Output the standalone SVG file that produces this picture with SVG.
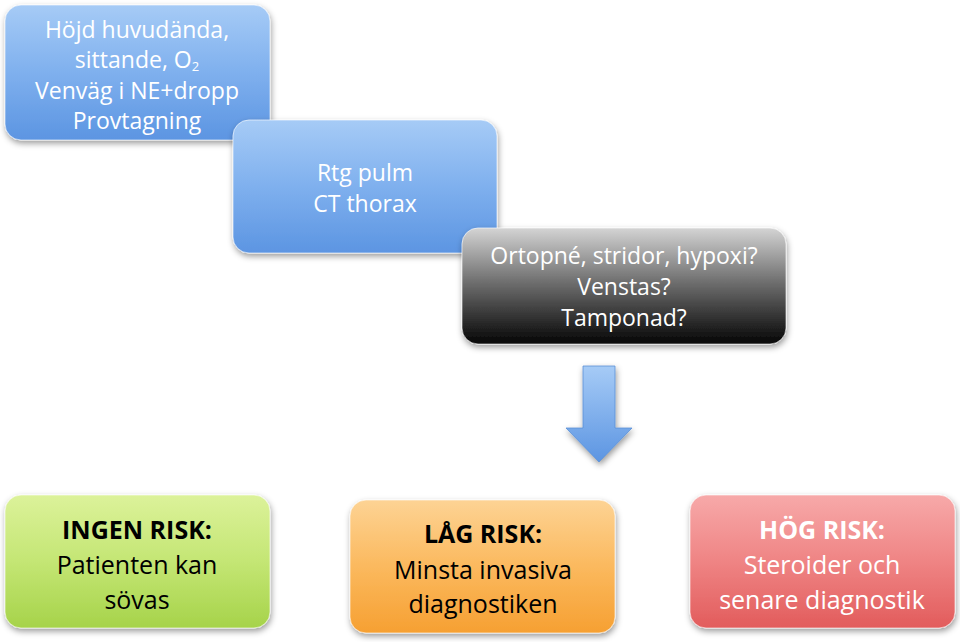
<svg xmlns="http://www.w3.org/2000/svg" width="960" height="642" viewBox="0 0 960 642">
<defs>
<linearGradient id="gBlue" x1="0" y1="0" x2="0" y2="1"><stop offset="0" stop-color="#a6cbf6"/><stop offset="0.5" stop-color="#7fb0ee"/><stop offset="1" stop-color="#5c95e2"/></linearGradient>
<linearGradient id="gGray" x1="0" y1="0" x2="0" y2="1"><stop offset="0" stop-color="#d4d4d4"/><stop offset="0.45" stop-color="#727272"/><stop offset="1" stop-color="#050505"/></linearGradient>
<linearGradient id="gGreen" x1="0" y1="0" x2="0" y2="1"><stop offset="0" stop-color="#dcf29a"/><stop offset="0.5" stop-color="#c4e674"/><stop offset="1" stop-color="#a6d34a"/></linearGradient>
<linearGradient id="gOrange" x1="0" y1="0" x2="0" y2="1"><stop offset="0" stop-color="#fdd394"/><stop offset="0.5" stop-color="#fbb95e"/><stop offset="1" stop-color="#f6a032"/></linearGradient>
<linearGradient id="gRed" x1="0" y1="0" x2="0" y2="1"><stop offset="0" stop-color="#f7a9a9"/><stop offset="0.5" stop-color="#ef8484"/><stop offset="1" stop-color="#e25c5c"/></linearGradient>
<linearGradient id="gArrow" x1="0" y1="0" x2="0" y2="1"><stop offset="0" stop-color="#a6cbf6"/><stop offset="1" stop-color="#5c95e2"/></linearGradient>
<filter id="sh" x="-10%" y="-10%" width="125%" height="130%"><feDropShadow dx="1" dy="3" stdDeviation="3" flood-color="#000" flood-opacity="0.4"/></filter>
</defs>
<style>
.box{stroke:#ffffff;stroke-opacity:0.6;stroke-width:1;filter:url(#sh)}
text{font-family:"Open Sans","Liberation Sans",sans-serif;text-anchor:middle}
.w{fill:#ffffff;font-size:23px}
.b{fill:#000000;font-size:25px}
.bold{font-weight:bold}
.wr{fill:#ffffff;font-size:25px}
</style>
<rect width="960" height="642" fill="#ffffff"/>
<g id="node-step1">
<rect class="box" x="5" y="5" width="265" height="135" rx="16" fill="url(#gBlue)"/>
<text class="w" x="137" y="38">Höjd huvudända,</text>
<text class="w" x="137" y="68">sittande, O<tspan font-size="13" dy="3">2</tspan></text>
<text class="w" x="137" y="99">Venväg i NE+dropp</text>
<text class="w" x="137" y="129">Provtagning</text>
</g>
<g id="node-step2">
<rect class="box" x="233" y="120" width="264" height="133" rx="16" fill="url(#gBlue)"/>
<text class="w" x="365" y="181">Rtg pulm</text>
<text class="w" x="365" y="212">CT thorax</text>
</g>
<g id="node-step3">
<rect class="box" x="462" y="228" width="324" height="116" rx="16" fill="url(#gGray)"/>
<text class="w" x="624" y="264">Ortopné, stridor, hypoxi?</text>
<text class="w" x="624" y="295">Venstas?</text>
<text class="w" x="624" y="326">Tamponad?</text>
</g>
<g id="connectors">
<path d="M583,366 H615 V428 H632 L599,462 L566,428 H583 Z" fill="url(#gArrow)" stroke="#5a8fd6" stroke-width="0.8" filter="url(#sh)"/>
</g>
<g id="node-ingen">
<rect class="box" x="5" y="495" width="265" height="133" rx="16" fill="url(#gGreen)"/>
<text class="b bold" x="137" y="539">INGEN RISK:</text>
<text class="b" x="137" y="574">Patienten kan</text>
<text class="b" x="137" y="609">sövas</text>
</g>
<g id="node-lag">
<rect class="box" x="350" y="500" width="265" height="133" rx="16" fill="url(#gOrange)"/>
<text class="b bold" x="483" y="543">LÅG RISK:</text>
<text class="b" x="483" y="579">Minsta invasiva</text>
<text class="b" x="483" y="613">diagnostiken</text>
</g>
<g id="node-hog">
<rect class="box" x="690" y="495" width="265" height="133" rx="16" fill="url(#gRed)"/>
<text class="wr bold" x="822" y="539">HÖG RISK:</text>
<text class="wr" x="822" y="574">Steroider och</text>
<text class="wr" x="822" y="609">senare diagnostik</text>
</g>
</svg>
